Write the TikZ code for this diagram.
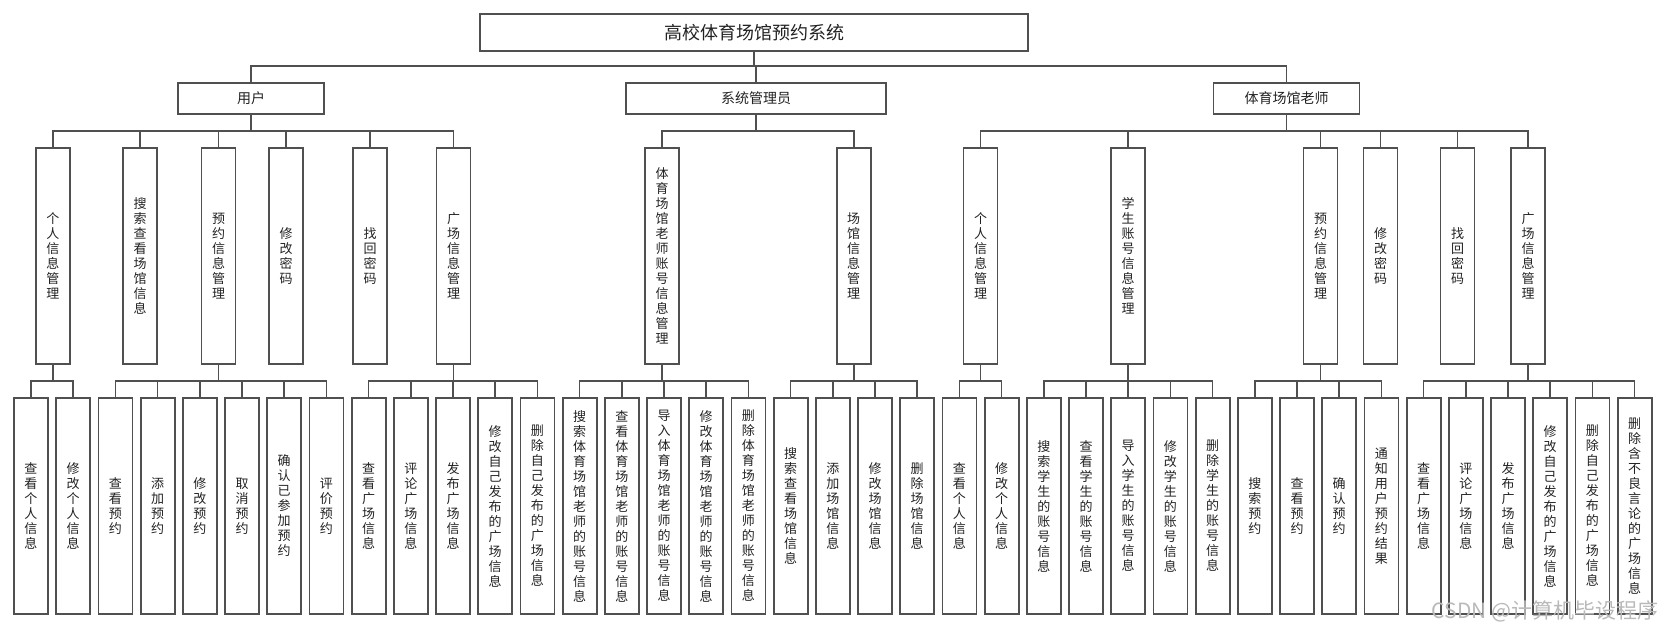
\documentclass[tikz,border=0pt]{standalone}
\usepackage{fontspec}
\setmainfont{Noto Sans CJK SC}
\usepackage{xcolor}
\usepackage{tikz}
\usetikzlibrary{positioning}
\XeTeXlinebreaklocale "zh"
\XeTeXlinebreakskip = 0pt plus 1pt
\definecolor{linegray}{HTML}{505050}
\definecolor{textgray}{HTML}{222222}
\tikzset{
  rootbox/.style={draw=linegray, line width=0.9pt, outer sep=0pt, inner sep=0pt, minimum width=274pt, minimum height=18.5pt, text=textgray, font=\fontsize{9}{10}\selectfont},
  rolebox/.style={draw=linegray, line width=0.9pt, outer sep=0pt, inner sep=0pt, minimum height=15.5pt, text=textgray, font=\fontsize{7}{8}\selectfont},
  colbox/.style={draw=linegray, line width=0.9pt, outer sep=0pt, inner sep=0pt, minimum width=17pt, minimum height=108pt, text width=7pt, align=center, text=textgray, font=\fontsize{6.5}{7.5}\selectfont},
  leafbox/.style={colbox},
  link/.style={draw=linegray, line width=0.8pt}
}

\begin{document}
\begin{tikzpicture}[x=0.5pt, y=-0.5pt]
  \useasboundingbox (0,0) rectangle (1666,630);
  % top and roles
  \node[rootbox] (sys) at (754,32.5) {高校体育场馆预约系统};
  \node[rolebox, minimum width=73pt] (user) at (251,98.5) {用户};
  \node[rolebox, minimum width=130pt] (admin) at (756,98.5) {系统管理员};
  \node[rolebox, minimum width=73pt] (teacher) at (1286.5,98.5) {体育场馆老师};

  % second level
  \node[colbox] (u-info) at (53,256) {个人信息管理};
  \node[colbox] (u-search) at (140,256) {搜索查看场馆信息};
  \node[colbox] (u-book) at (218.5,256) {预约信息管理};
  \node[colbox] (u-pwd) at (286,256) {修改密码};
  \node[colbox] (u-find) at (370,256) {找回密码};
  \node[colbox] (u-square) at (453.5,256) {广场信息管理};
  \node[colbox] (a-tch) at (662,256) {体育场馆老师账号信息管理};
  \node[colbox] (a-ven) at (853.7,256) {场馆信息管理};
  \node[colbox] (t-info) at (980.5,256) {个人信息管理};
  \node[colbox] (t-stu) at (1128,256) {学生账号信息管理};
  \node[colbox] (t-book) at (1320.5,256) {预约信息管理};
  \node[colbox] (t-pwd) at (1380.5,256) {修改密码};
  \node[colbox] (t-find) at (1457.5,256) {找回密码};
  \node[colbox] (t-square) at (1528,256) {广场信息管理};

  % leaves, one row
  \node[leafbox] (u-info1) at (31,506) {查看个人信息};
  \node[leafbox, right=4.1pt of u-info1] (u-info2) {修改个人信息};
  \node[leafbox, right=4.1pt of u-info2] (u-book1) {查看预约};
  \node[leafbox, right=4.1pt of u-book1] (u-book2) {添加预约};
  \node[leafbox, right=4.1pt of u-book2] (u-book3) {修改预约};
  \node[leafbox, right=4.1pt of u-book3] (u-book4) {取消预约};
  \node[leafbox, right=4.1pt of u-book4] (u-book5) {确认已参加预约};
  \node[leafbox, right=4.1pt of u-book5] (u-book6) {评价预约};
  \node[leafbox, right=4.1pt of u-book6] (u-sq1) {查看广场信息};
  \node[leafbox, right=4.1pt of u-sq1] (u-sq2) {评论广场信息};
  \node[leafbox, right=4.1pt of u-sq2] (u-sq3) {发布广场信息};
  \node[leafbox, right=4.1pt of u-sq3] (u-sq4) {修改自己发布的广场信息};
  \node[leafbox, right=4.1pt of u-sq4] (u-sq5) {删除自己发布的广场信息};
  \node[leafbox, right=4.1pt of u-sq5] (a-tch1) {搜索体育场馆老师的账号信息};
  \node[leafbox, right=4.1pt of a-tch1] (a-tch2) {查看体育场馆老师的账号信息};
  \node[leafbox, right=4.1pt of a-tch2] (a-tch3) {导入体育场馆老师的账号信息};
  \node[leafbox, right=4.1pt of a-tch3] (a-tch4) {修改体育场馆老师的账号信息};
  \node[leafbox, right=4.1pt of a-tch4] (a-tch5) {删除体育场馆老师的账号信息};
  \node[leafbox, right=4.1pt of a-tch5] (a-ven1) {搜索查看场馆信息};
  \node[leafbox, right=4.1pt of a-ven1] (a-ven2) {添加场馆信息};
  \node[leafbox, right=4.1pt of a-ven2] (a-ven3) {修改场馆信息};
  \node[leafbox, right=4.1pt of a-ven3] (a-ven4) {删除场馆信息};
  \node[leafbox, right=4.1pt of a-ven4] (t-info1) {查看个人信息};
  \node[leafbox, right=4.1pt of t-info1] (t-info2) {修改个人信息};
  \node[leafbox, right=4.1pt of t-info2] (t-stu1) {搜索学生的账号信息};
  \node[leafbox, right=4.1pt of t-stu1] (t-stu2) {查看学生的账号信息};
  \node[leafbox, right=4.1pt of t-stu2] (t-stu3) {导入学生的账号信息};
  \node[leafbox, right=4.1pt of t-stu3] (t-stu4) {修改学生的账号信息};
  \node[leafbox, right=4.1pt of t-stu4] (t-stu5) {删除学生的账号信息};
  \node[leafbox, right=4.1pt of t-stu5] (t-book1) {搜索预约};
  \node[leafbox, right=4.1pt of t-book1] (t-book2) {查看预约};
  \node[leafbox, right=4.1pt of t-book2] (t-book3) {确认预约};
  \node[leafbox, right=4.1pt of t-book3] (t-book4) {通知用户预约结果};
  \node[leafbox, right=4.1pt of t-book4] (t-sq1) {查看广场信息};
  \node[leafbox, right=4.1pt of t-sq1] (t-sq2) {评论广场信息};
  \node[leafbox, right=4.1pt of t-sq2] (t-sq3) {发布广场信息};
  \node[leafbox, right=4.1pt of t-sq3] (t-sq4) {修改自己发布的广场信息};
  \node[leafbox, right=4.1pt of t-sq4] (t-sq5) {删除自己发布的广场信息};
  \node[leafbox, right=4.1pt of t-sq5] (t-sq6) {删除含不良言论的广场信息};

  \node[text=gray!55, font=\fontsize{10.5}{12}\selectfont] (mark) at (1545,611) {CSDN @计算机毕设程序};

  % connectors
  \draw[link] (sys.south) -- ++(0,15) -| (user.north);
  \draw[link] (sys.south) -- ++(0,15) -| (admin.north);
  \draw[link] (sys.south) -- ++(0,15) -| (teacher.north);

  \draw[link] (user.south) -- ++(0,17) -| (u-info.north);
  \draw[link] (user.south) -- ++(0,17) -| (u-search.north);
  \draw[link] (user.south) -- ++(0,17) -| (u-book.north);
  \draw[link] (user.south) -- ++(0,17) -| (u-pwd.north);
  \draw[link] (user.south) -- ++(0,17) -| (u-find.north);
  \draw[link] (user.south) -- ++(0,17) -| (u-square.north);
  \draw[link] (admin.south) -- ++(0,17) -| (a-tch.north);
  \draw[link] (admin.south) -- ++(0,17) -| (a-ven.north);
  \draw[link] (teacher.south) -- ++(0,17) -| (t-info.north);
  \draw[link] (teacher.south) -- ++(0,17) -| (t-stu.north);
  \draw[link] (teacher.south) -- ++(0,17) -| (t-book.north);
  \draw[link] (teacher.south) -- ++(0,17) -| (t-pwd.north);
  \draw[link] (teacher.south) -- ++(0,17) -| (t-find.north);
  \draw[link] (teacher.south) -- ++(0,17) -| (t-square.north);

  \draw[link] (u-info.south) -- ++(0,17) -| (u-info1.north);
  \draw[link] (u-info.south) -- ++(0,17) -| (u-info2.north);
  \draw[link] (u-book.south) -- ++(0,17) -| (u-book1.north);
  \draw[link] (u-book.south) -- ++(0,17) -| (u-book2.north);
  \draw[link] (u-book.south) -- ++(0,17) -| (u-book3.north);
  \draw[link] (u-book.south) -- ++(0,17) -| (u-book4.north);
  \draw[link] (u-book.south) -- ++(0,17) -| (u-book5.north);
  \draw[link] (u-book.south) -- ++(0,17) -| (u-book6.north);
  \draw[link] (u-square.south) -- ++(0,17) -| (u-sq1.north);
  \draw[link] (u-square.south) -- ++(0,17) -| (u-sq2.north);
  \draw[link] (u-square.south) -- ++(0,17) -| (u-sq3.north);
  \draw[link] (u-square.south) -- ++(0,17) -| (u-sq4.north);
  \draw[link] (u-square.south) -- ++(0,17) -| (u-sq5.north);

  \draw[link] (a-tch.south) -- ++(0,17) -| (a-tch1.north);
  \draw[link] (a-tch.south) -- ++(0,17) -| (a-tch2.north);
  \draw[link] (a-tch.south) -- ++(0,17) -| (a-tch3.north);
  \draw[link] (a-tch.south) -- ++(0,17) -| (a-tch4.north);
  \draw[link] (a-tch.south) -- ++(0,17) -| (a-tch5.north);
  \draw[link] (a-ven.south) -- ++(0,17) -| (a-ven1.north);
  \draw[link] (a-ven.south) -- ++(0,17) -| (a-ven2.north);
  \draw[link] (a-ven.south) -- ++(0,17) -| (a-ven3.north);
  \draw[link] (a-ven.south) -- ++(0,17) -| (a-ven4.north);

  \draw[link] (t-info.south) -- ++(0,17) -| (t-info1.north);
  \draw[link] (t-info.south) -- ++(0,17) -| (t-info2.north);
  \draw[link] (t-stu.south) -- ++(0,17) -| (t-stu1.north);
  \draw[link] (t-stu.south) -- ++(0,17) -| (t-stu2.north);
  \draw[link] (t-stu.south) -- ++(0,17) -| (t-stu3.north);
  \draw[link] (t-stu.south) -- ++(0,17) -| (t-stu4.north);
  \draw[link] (t-stu.south) -- ++(0,17) -| (t-stu5.north);
  \draw[link] (t-book.south) -- ++(0,17) -| (t-book1.north);
  \draw[link] (t-book.south) -- ++(0,17) -| (t-book2.north);
  \draw[link] (t-book.south) -- ++(0,17) -| (t-book3.north);
  \draw[link] (t-book.south) -- ++(0,17) -| (t-book4.north);
  \draw[link] (t-square.south) -- ++(0,17) -| (t-sq1.north);
  \draw[link] (t-square.south) -- ++(0,17) -| (t-sq2.north);
  \draw[link] (t-square.south) -- ++(0,17) -| (t-sq3.north);
  \draw[link] (t-square.south) -- ++(0,17) -| (t-sq4.north);
  \draw[link] (t-square.south) -- ++(0,17) -| (t-sq5.north);
  \draw[link] (t-square.south) -- ++(0,17) -| (t-sq6.north);
\end{tikzpicture}
\end{document}
